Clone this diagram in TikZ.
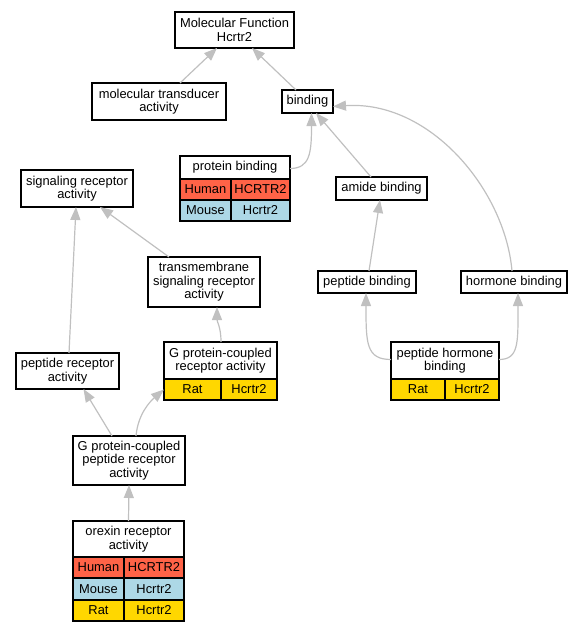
\documentclass[tikz,border=0pt]{standalone}
\usepackage{fontspec}
\setmainfont{Liberation Sans}
\usetikzlibrary{arrows.meta}
\definecolor{edgec}{HTML}{C0C0C0}
\definecolor{human}{HTML}{FF6347}
\definecolor{mouse}{HTML}{ADD8E6}
\definecolor{rat}{HTML}{FFD700}
\tikzset{
  box/.style={draw=black, line width=1.2pt, fill=white, inner sep=0pt, outer sep=0pt,
    anchor=north west, align=center, font=\fontsize{12.9}{13.5}\selectfont},
  edge/.style={draw=edgec, line width=1.2pt, -{Triangle[length=13pt,width=10pt]}, fill=none},
}
\newcommand{\gbox}[6]{% name, x1, y1, x2, y2, text
  \node[box, minimum width=#4-#2, minimum height=#5-#3] (#1) at (#2,#3) {#6};}
\newcommand{\gcell}[7]{% name, x1, y1, x2, y2, fill, text
  \node[box, fill=#6, minimum width=#4-#2, minimum height=#5-#3] (#1) at (#2,#3) {#7};}
\begin{document}
\begin{tikzpicture}[x=1pt,y=-1pt]
\useasboundingbox (0,0) rectangle (581,632);
% plain boxes
\gbox{mf}{175}{12}{294}{48}{Molecular Function\\Hcrtr2}
\gbox{mt}{92}{83}{226}{120}{molecular transducer\\activity}
\gbox{bind}{282}{90}{333}{113}{binding}
\gbox{amide}{336}{177}{427}{200}{amide binding}
\gbox{sra}{21}{170}{133}{207}{signaling receptor\\activity}
\gbox{tm}{148}{257}{260}{307}{transmembrane\\signaling receptor\\activity}
\gbox{pra}{16}{353}{119}{389}{peptide receptor\\activity}
\gbox{pepb}{318}{271}{416}{293}{peptide binding}
\gbox{hb}{461}{271}{567}{293}{hormone binding}
\gbox{gp}{73}{436}{185}{485}{G protein-coupled\\peptide receptor\\activity}
% protein binding table
\gbox{pbh}{180}{156}{290}{179}{protein binding}
\gcell{pbh1}{180}{179}{231}{200}{human}{Human}
\gcell{pbh2}{231}{179}{290}{200}{human}{HCRTR2}
\gcell{pbm1}{180}{200}{231}{221}{mouse}{Mouse}
\gcell{pbm2}{231}{200}{290}{221}{mouse}{Hcrtr2}
% GPCR table
\gbox{gh}{164}{342}{277}{379}{G protein-coupled\\receptor activity}
\gcell{gr1}{164}{379}{221}{400}{rat}{Rat}
\gcell{gr2}{221}{379}{277}{400}{rat}{Hcrtr2}
% peptide hormone binding table
\gbox{phb}{391}{342}{499}{379}{peptide hormone\\binding}
\gcell{phr1}{391}{379}{445}{400}{rat}{Rat}
\gcell{phr2}{445}{379}{499}{400}{rat}{Hcrtr2}
% orexin table
\gbox{orx}{73}{521}{184}{557}{orexin receptor\\activity}
\gcell{orh1}{73}{557}{124}{578}{human}{Human}
\gcell{orh2}{124}{557}{184}{578}{human}{HCRTR2}
\gcell{orm1}{73}{578}{124}{600}{mouse}{Mouse}
\gcell{orm2}{124}{578}{184}{600}{mouse}{Hcrtr2}
\gcell{orr1}{73}{600}{124}{621}{rat}{Rat}
\gcell{orr2}{124}{600}{184}{621}{rat}{Hcrtr2}
% edges
\draw[edge] ([xshift=21pt]mt.north) -- ([xshift=-17.5pt]mf.south);
\draw[edge] ([xshift=-11.5pt]bind.north) -- ([xshift=17.5pt]mf.south);
\draw[edge] ([yshift=-1pt]pbh.east) .. controls +(20,0) and +(0,40) .. ([xshift=4pt]bind.south);
\draw[edge] ([xshift=-10.5pt]amide.north) -- ([xshift=8.5pt]bind.south);
\draw[edge] ([xshift=-2pt]hb.north) .. controls (505,190) and (430,100) .. ([yshift=-5pt]bind.east);
\draw[edge] ([xshift=2pt]pepb.north) -- ([xshift=-1.5pt]amide.south);
\draw[edge] ([yshift=1pt]phb.west) .. controls +(-25,0) and +(0,50) .. ([xshift=-1pt]pepb.south);
\draw[edge] ([yshift=1pt]phb.east) .. controls +(20,0) and +(0,50) .. ([xshift=4pt]hb.south);
\draw[edge] ([xshift=-35pt]tm.north) -- ([xshift=23pt]sra.south);
\draw[edge] ([xshift=1.5pt]pra.north) -- ([xshift=-1pt]sra.south);
\draw[edge] ([xshift=0.5pt]gh.north) .. controls +(0,-15) and +(0,15) .. ([xshift=13pt]tm.south);
\draw[edge] ([xshift=-17pt]gp.north) -- ([xshift=16pt]pra.south);
\draw[edge] ([xshift=7pt]gp.north) .. controls +(2,-22) and +(-14,12) .. (gr1.west);
\draw[edge] (orx.north) -- (gp.south);
\end{tikzpicture}
\end{document}
